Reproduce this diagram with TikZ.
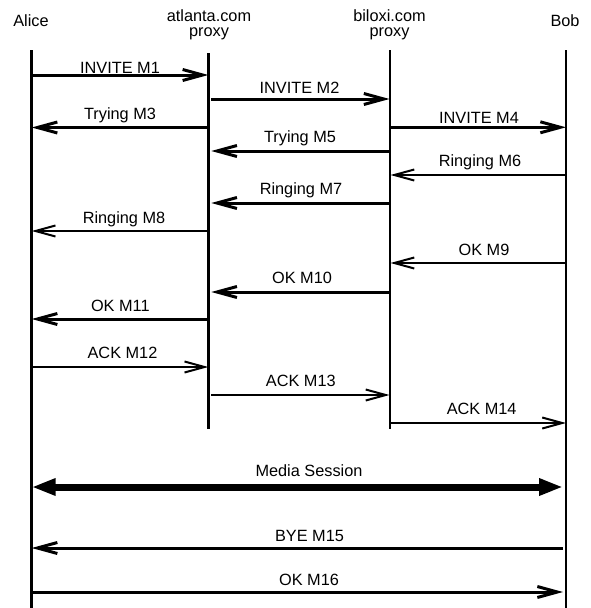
\documentclass[tikz,border=0pt]{standalone}
\usepackage{fontspec}
\setmainfont{Liberation Sans}
\usetikzlibrary{arrows.meta}
\begin{document}
\begin{tikzpicture}[x=1pt,y=-1pt,
  txt/.style={font=\fontsize{16.3}{15}\selectfont, inner sep=0pt, outer sep=0pt},
  lbl/.style={txt, anchor=base},
  hd/.style={txt, anchor=north, align=center},
  lifethick/.style={line width=3pt},
  lifethin/.style={line width=2pt},
  barb/.style={-{Straight Barb[length=20pt,width=11pt]}},
  thk/.style={line width=3pt, barb},
  thn/.style={line width=2pt, barb},
  media/.style={line width=7pt, {Triangle[length=24pt,width=16pt]}-{Triangle[length=24pt,width=16pt]}}]
\fill[white] (0,0) rectangle (590,608);
\useasboundingbox (0,0) rectangle (590,608);
% headers
\node[lbl] (hA) at (31,26) {Alice};
\node[hd] (hP1) at (209,10) {atlanta.com\\proxy};
\node[hd] (hP2) at (389.5,10) {biloxi.com\\proxy};
\node[lbl] (hB) at (565,26) {Bob};
% lifelines
\coordinate (A) at (31.7,50);   \coordinate (Aend) at (31.7,608);
\coordinate (P1) at (208.3,53); \coordinate (P1end) at (208.3,429);
\coordinate (P2) at (389.5,50); \coordinate (P2end) at (389.5,429);
\coordinate (B) at (566,50);    \coordinate (Bend) at (566,608);
\draw[lifethick] (A) -- (Aend);
\draw[lifethick] (P1) -- (P1end);
\draw[lifethin] (P2) -- (P2end);
\draw[lifethin] (B) -- (Bend);
% messages
\draw[thk] (A |- 0,75) -- (P1 |- 0,75);
\node[lbl] (l1) at (120,73) {INVITE M1};
\draw[thk] ([xshift=3pt]P1 |- 0,99) -- (P2 |- 0,99);
\node[lbl] (l2) at (299.5,93) {INVITE M2};
\draw[thk] (P1 |- 0,127.5) -- (A |- 0,127.5);
\node[lbl] (l3) at (120,119.5) {Trying M3};
\draw[thk] ([xshift=1pt]P2 |- 0,127.3) -- (B |- 0,127.3);
\node[lbl] (l4) at (479,123) {INVITE M4};
\draw[thk] (P2 |- 0,151) -- ([xshift=3pt]P1 |- 0,151);
\node[lbl] (l5) at (300,142.7) {Trying M5};
\draw[thn] (B |- 0,175) -- ([xshift=1pt]P2 |- 0,175);
\node[lbl] (l6) at (480,166.7) {Ringing M6};
\draw[thk] (P2 |- 0,203) -- ([xshift=3pt]P1 |- 0,203);
\node[lbl] (l7) at (301,194.5) {Ringing M7};
\draw[thn] (P1 |- 0,231) -- (A |- 0,231);
\node[lbl] (l8) at (124,223) {Ringing M8};
\draw[thn] (B |- 0,263) -- ([xshift=1pt]P2 |- 0,263);
\node[lbl] (l9) at (484,255) {OK M9};
\draw[thk] (P2 |- 0,292) -- ([xshift=3pt]P1 |- 0,292);
\node[lbl] (l10) at (302,283.5) {OK M10};
\draw[thk] (P1 |- 0,319) -- (A |- 0,319);
\node[lbl] (l11) at (120.3,311.7) {OK M11};
\draw[thn] (A |- 0,367) -- (P1 |- 0,367);
\node[lbl] (l12) at (122.5,358.3) {ACK M12};
\draw[thn] ([xshift=3pt]P1 |- 0,395) -- (P2 |- 0,395);
\node[lbl] (l13) at (300.8,386.7) {ACK M13};
\draw[thn] ([xshift=1pt]P2 |- 0,423) -- (B |- 0,423);
\node[lbl] (l14) at (481.7,414) {ACK M14};
\draw[media] (A |- 0,487) -- ([xshift=-3pt]B |- 0,487);
\node[lbl] (lm) at (309,476.7) {Media Session};
\draw[thk] ([xshift=-3pt]B |- 0,548) -- (A |- 0,548);
\node[lbl] (l15) at (309.5,541.7) {BYE M15};
\draw[thk] (A |- 0,592) -- ([xshift=-3pt]B |- 0,592);
\node[lbl] (l16) at (309,585.7) {OK M16};
\end{tikzpicture}
\end{document}
